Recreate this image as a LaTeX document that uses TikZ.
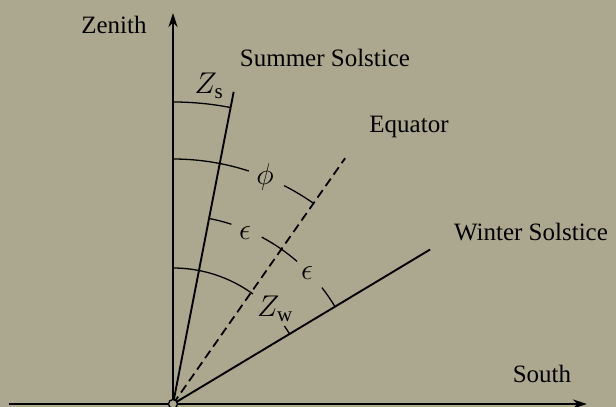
\RequirePackage{fix-cm}
\documentclass[tikz,border=0pt]{standalone}
\usepackage{fontspec}
\setmainfont{Liberation Serif}
\usetikzlibrary{arrows.meta}
\definecolor{paper}{RGB}{172,168,143}
\tikzset{
  axis/.style={draw=black,line width=2.6pt},
  ray/.style={draw=black,line width=1.9pt},
  eqray/.style={draw=black,line width=1.8pt,dash pattern=on 9pt off 5pt},
  angarc/.style={draw=black,line width=1.3pt},
  lab/.style={font=\fontsize{25}{28}\selectfont,inner sep=0pt},
  sym/.style={font=\fontsize{30}{34}\selectfont,inner sep=0pt},
}
\begin{document}
\begin{tikzpicture}[x=1pt,y=1pt]
  \useasboundingbox (-173,-3) rectangle (443,404);
  \fill[paper] (-173,-3) rectangle (443,404);
  % axes
  \coordinate (O) at (0,0);
  \coordinate (west) at (-164,0);
  \coordinate (east) at (414,0);
  \coordinate (zen) at (90:391);
  \draw[axis,-{Stealth[length=14pt,width=9pt]}] (west) -- (east);
  \draw[axis,-{Stealth[length=14pt,width=9pt]}] (O) -- (zen);
  % rays
  \coordinate (sum) at (79:318);
  \coordinate (equ) at (55:300);
  \coordinate (win) at (31:300);
  \draw[ray] (O) -- (sum);
  \draw[eqray] (O) -- (equ);
  \draw[ray] (O) -- (win);
  % angle arcs
  \draw[angarc] (90:302) arc[start angle=90,end angle=79,radius=302];
  \draw[angarc] (90:245) arc[start angle=90,end angle=72,radius=245];
  \draw[angarc] (63:245) arc[start angle=63,end angle=55,radius=245];
  \draw[angarc] (79:189) arc[start angle=79,end angle=72,radius=189];
  \draw[angarc] (62:189) arc[start angle=62,end angle=49,radius=189];
  \draw[angarc] (38:189) arc[start angle=38,end angle=31,radius=189];
  \draw[angarc] (90:136) arc[start angle=90,end angle=54,radius=136];
  \draw[angarc] (35:136) arc[start angle=35,end angle=31,radius=136];
  \filldraw[fill=paper,draw=black,line width=1.4pt] (O) circle (4.5);
  % labels
  \node[lab] (zenlab) at (-59,379) {Zenith};
  \node[lab] (sumlab) at (152,346) {Summer Solstice};
  \node[lab] (equlab) at (236,277) {Equator};
  \node[lab] (winlab) at (358,172) {Winter Solstice};
  \node[lab] (southlab) at (369,30) {South};
  \node[sym] (zs) at (36,318) {$Z_{\mathrm{s}}$};
  \node[sym] (phi) at (92,227) {$\phi$};
  \node[sym] (eps1) at (72,171) {$\epsilon$};
  \node[sym] (eps2) at (134,131) {$\epsilon$};
  \node[sym] (zw) at (102,95) {$Z_{\mathrm{w}}$};
\end{tikzpicture}
\end{document}
